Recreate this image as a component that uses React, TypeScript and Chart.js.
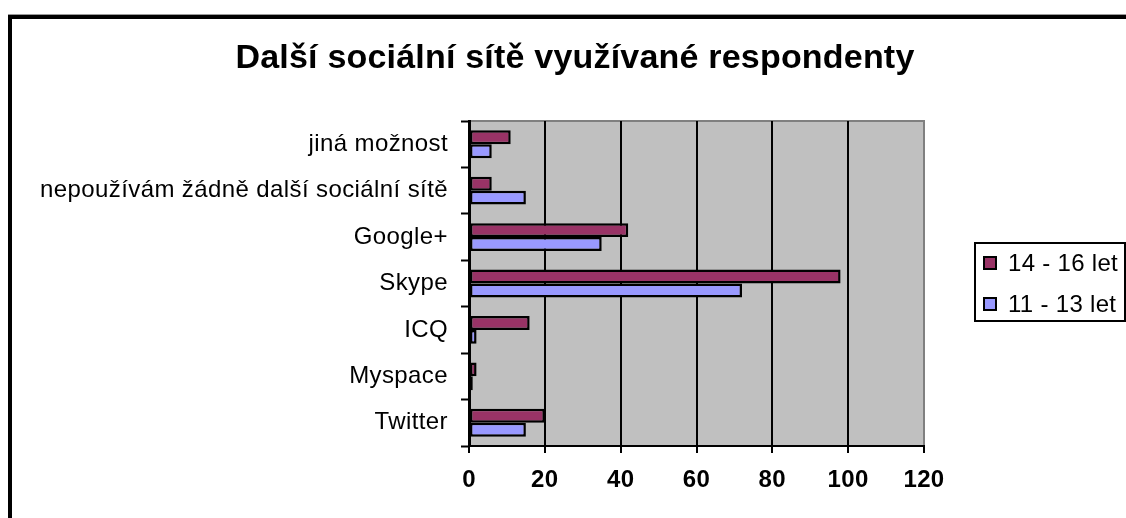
import React, { useEffect, useRef } from "react";
import { Chart, registerables } from "chart.js";

Chart.register(...registerables);

const chartTitle = "Další sociální sítě využívané respondenty";
const categories = [
  "jiná možnost",
  "nepoužívám žádně další sociální sítě",
  "Google+",
  "Skype",
  "ICQ",
  "Myspace",
  "Twitter",
];
const seriesNames = ["14 - 16 let", "11 - 13 let"];
const values1416 = [11, 6, 42, 98, 16, 2, 20];
const values1113 = [6, 15, 35, 72, 2, 1, 15];
const xTickValues = [0, 20, 40, 60, 80, 100, 120];

const COLORS = ["#993366", "#9999FF"];
const FONT = "'Liberation Sans', Arial, Helvetica, sans-serif";

const decorPlugin = {
  id: "decor",
  beforeDraw(chart: any) {
    const { ctx, chartArea } = chart;
    ctx.save();
    ctx.fillStyle = "#ffffff";
    ctx.fillRect(0, 0, chart.width, chart.height);
    // plot background
    ctx.fillStyle = "#C0C0C0";
    ctx.fillRect(chartArea.left, chartArea.top, chartArea.right - chartArea.left, chartArea.bottom - chartArea.top);
    // plot top border
    ctx.fillStyle = "#808080";
    ctx.fillRect(chartArea.left, chartArea.top - 1, chartArea.right - chartArea.left + 1, 2);
    // outer frame (top and left)
    ctx.fillStyle = "#9a9a9a";
    ctx.fillRect(8, 14, chart.width - 8, 1);
    ctx.fillStyle = "#000000";
    ctx.fillRect(8, 15, chart.width - 8, 4);
    ctx.fillRect(8, 15, 4, chart.height - 15);
    // title
    (ctx as any).letterSpacing = "0.2px";
    ctx.fillStyle = "#000000";
    ctx.font = `bold 34px ${FONT}`;
    ctx.textAlign = "center";
    ctx.textBaseline = "alphabetic";
    ctx.fillText(chartTitle, 575, 68);
    ctx.restore();
    (ctx as any).letterSpacing = "0.4px";
  },
  afterDraw(chart: any) {
    const { ctx } = chart;
    ctx.save();
    (ctx as any).letterSpacing = "0.3px";
    // legend box
    ctx.strokeStyle = "#000000";
    ctx.lineWidth = 2;
    ctx.fillStyle = "#ffffff";
    ctx.fillRect(975, 243, 150, 78);
    ctx.strokeRect(975, 243, 150, 78);
    const rows = [257, 298];
    seriesNames.forEach((name, i) => {
      const y = rows[i];
      ctx.fillStyle = COLORS[i];
      ctx.fillRect(984, y, 12, 12);
      ctx.lineWidth = 2;
      ctx.strokeStyle = "#000000";
      ctx.strokeRect(984, y, 12, 12);
      ctx.fillStyle = "#000000";
      ctx.font = `24px ${FONT}`;
      ctx.textAlign = "left";
      ctx.textBaseline = "alphabetic";
      ctx.fillText(name, 1008, y + 14);
    });
    ctx.restore();
    (ctx as any).letterSpacing = "0px";
  },
};

export default function App() {
  const canvasRef = useRef<HTMLCanvasElement | null>(null);

  useEffect(() => {
    const canvas = canvasRef.current;
    if (!canvas) return;
    const chart = new Chart(canvas, {
      type: "bar",
      data: {
        labels: categories,
        datasets: [
          {
            label: seriesNames[0],
            data: values1416,
            backgroundColor: COLORS[0],
            borderColor: "#000000",
            borderWidth: 2.5,
            borderSkipped: false,
            categoryPercentage: 0.6,
            barPercentage: 1.0,
          },
          {
            label: seriesNames[1],
            data: values1113,
            backgroundColor: COLORS[1],
            borderColor: "#000000",
            borderWidth: 2.5,
            borderSkipped: false,
            categoryPercentage: 0.6,
            barPercentage: 1.0,
          },
        ],
      },
      options: {
        indexAxis: "y",
        responsive: false,
        animation: false,
        devicePixelRatio: 1,
        layout: { padding: { left: 0, right: 202, top: 121, bottom: 0 } },
        plugins: {
          legend: { display: false },
          title: { display: false },
          tooltip: { enabled: false },
        },
        scales: {
          x: {
            type: "linear",
            min: 0,
            max: 120,
            afterBuildTicks: (scale: any) => {
              scale.ticks = xTickValues.map((v) => ({ value: v }));
            },
            afterFit: (scale: any) => {
              scale.height = 72;
            },
            ticks: {
              color: "#000000",
              font: { family: FONT, size: 24, weight: "bold" },
              padding: 13,
              maxRotation: 0,
            },
            grid: {
              color: (c: any) => (c.tick && c.tick.value === 120 ? "#808080" : "#000000"),
              lineWidth: 2,
              tickLength: 7,
              tickColor: "#000000",
              tickWidth: 2,
            },
            border: { display: true, color: "#000000", width: 2 },
          },
          y: {
            type: "category",
            afterFit: (scale: any) => {
              scale.width = 469;
            },
            ticks: {
              color: "#000000",
              font: { family: FONT, size: 24 },
              padding: 13,
              autoSkip: false,
            },
            grid: {
              drawOnChartArea: false,
              drawTicks: true,
              tickLength: 8,
              tickColor: "#000000",
              tickWidth: 2,
              offset: true,
            },
            border: { display: true, color: "#000000", width: 3 },
          },
        },
      },
      plugins: [decorPlugin],
    } as any);
    return () => chart.destroy();
  }, []);

  return (
    <canvas
      ref={canvasRef}
      width={1126}
      height={518}
      style={{ position: "fixed", left: 0, top: 0, width: "1126px", height: "518px" }}
    />
  );
}
